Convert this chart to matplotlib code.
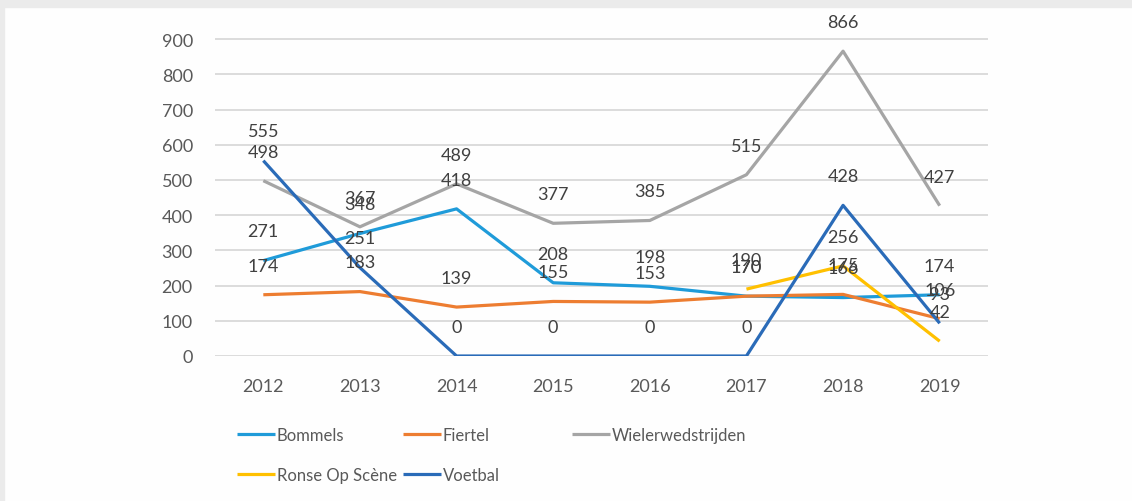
import matplotlib.pyplot as plt
from matplotlib.patches import Rectangle

plt.rcParams['font.family'] = ['Lato', 'DejaVu Sans']

# %% Data
years = ['2012', '2013', '2014', '2015', '2016', '2017', '2018', '2019']
bommels = [271, 348, 418, 208, 198, 170, 166, 174]
fiertel = [174, 183, 139, 155, 153, 170, 175, 106]
wieler = [498, 367, 489, 377, 385, 515, 866, 427]
ronse = [None, None, None, None, None, 190, 256, 42]
voetbal = [555, 251, 0, 0, 0, 0, 428, 93]

names = ['Bommels', 'Fiertel', 'Wielerwedstrijden', 'Ronse Op Scène', 'Voetbal']
series = [bommels, fiertel, wieler, ronse, voetbal]
colors = ['#1f9bd9', '#ed7d31', '#a5a5a5', '#ffc000', '#2a6bb8']

# %% Plot
fig = plt.figure(figsize=(11.32, 5.02), dpi=100)
fig.patches.append(Rectangle((0, 1 - 8 / 502), 1, 8 / 502, transform=fig.transFigure,
                             color='#ebebeb', zorder=0))
fig.patches.append(Rectangle((0, 0), 4 / 1132, 1, transform=fig.transFigure,
                             color='#ebebeb', zorder=0))

ax = fig.add_axes([215 / 1132, 145 / 502, 773 / 1132, 352 / 502])
x = list(range(len(years)))

handles = []
for name, vals, col in zip(names, series, colors):
    xs = [i for i, v in zip(x, vals) if v is not None]
    ys = [v for v in vals if v is not None]
    h, = ax.plot(xs, ys, color=col, lw=2.3, label=name, solid_capstyle='butt')
    handles.append(h)
    for xi, yi in zip(xs, ys):
        ax.annotate(str(yi), (xi, yi), xytext=(0, 21), textcoords='offset points',
                    ha='center', va='center', fontsize=13, color='#404040')

ax.set_xlim(-0.5, len(years) - 0.5)
ax.set_ylim(0, 1000)
ax.set_yticks(range(0, 1000, 100))
ax.set_xticks(x)
ax.set_xticklabels(years)
ax.tick_params(length=0, labelsize=13, labelcolor='#595959')
ax.tick_params(axis='y', pad=16)
ax.tick_params(axis='x', pad=16)
ax.grid(axis='y', color='#d9d9d9', lw=1.3)
ax.set_axisbelow(True)
for s in ax.spines.values():
    s.set_visible(False)
ax.set_facecolor('none')

# legend in three columns, filled row by row
cols = [([handles[0], handles[3]], 237), ([handles[1], handles[4]], 403), ([handles[2]], 572)]
for hs, xpos in cols:
    leg = fig.legend(handles=hs, labels=[h.get_label() for h in hs], loc='upper left',
                     bbox_to_anchor=(xpos / 1132, 1 - 428 / 502), frameon=False,
                     fontsize=12, handlelength=2.3, handletextpad=0.1, labelspacing=1.45,
                     borderpad=0, borderaxespad=0)
    for t in leg.get_texts():
        t.set_color('#595959')

fig.savefig('out.png', dpi=100, facecolor='#fefefe')
